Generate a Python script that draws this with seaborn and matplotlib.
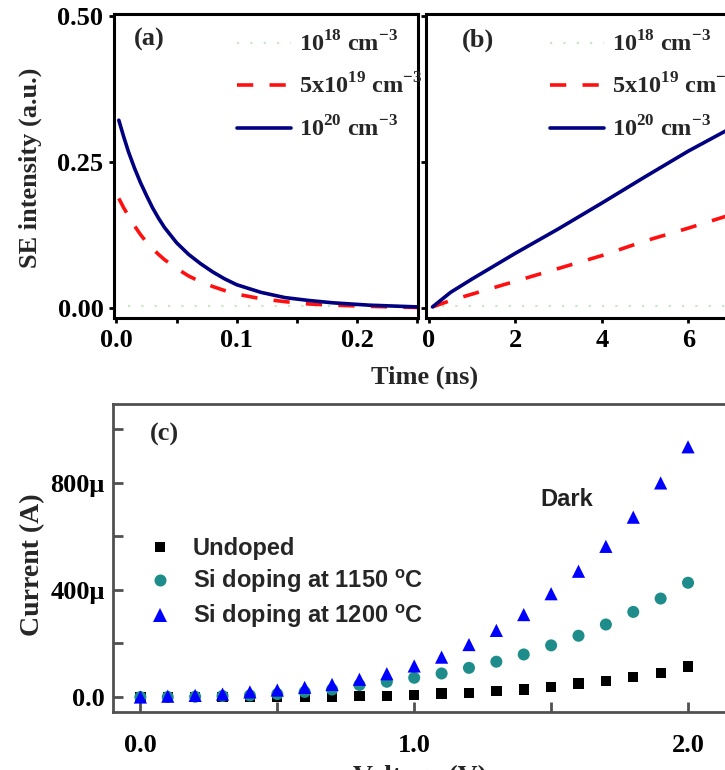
import matplotlib
matplotlib.use("Agg")
import pandas as pd
import matplotlib.pyplot as plt
import seaborn as sns

# ---- (a) SE decay, short time scale ----
t_a = [0.002, 0.006, 0.01, 0.015, 0.02, 0.025, 0.03, 0.035, 0.04, 0.05, 0.06, 0.07,
       0.08, 0.09, 0.10, 0.12, 0.14, 0.16, 0.18, 0.21, 0.25]
se_a_5e19 = [0.188, 0.172, 0.158, 0.141, 0.126, 0.113, 0.102, 0.092, 0.083, 0.068, 0.055, 0.045,
             0.037, 0.030, 0.024, 0.016, 0.011, 0.007, 0.005, 0.003, 0.001]
se_a_1e20 = [0.322, 0.294, 0.268, 0.240, 0.215, 0.193, 0.172, 0.154, 0.138, 0.112, 0.092, 0.076,
             0.062, 0.050, 0.040, 0.027, 0.018, 0.013, 0.009, 0.005, 0.002]
t_a_1e18 = [0.01, 0.25]
se_a_1e18 = [0.004, 0.004]

# ---- (b) SE rise, long time scale ----
t_b = [0.08, 0.5, 1, 2, 3, 4, 5, 6, 6.9]
se_b_5e19 = [0.002, 0.013, 0.024, 0.046, 0.068, 0.090, 0.115, 0.137, 0.158]
se_b_1e20 = [0.002, 0.027, 0.050, 0.094, 0.136, 0.180, 0.225, 0.269, 0.305]
t_b_1e18 = [0.3, 6.9]
se_b_1e18 = [0.004, 0.004]

# ---- (c) dark I-V (current in uA) ----
voltage = [0.0, 0.1, 0.2, 0.3, 0.4, 0.5, 0.6, 0.7, 0.8, 0.9, 1.0,
           1.1, 1.2, 1.3, 1.4, 1.5, 1.6, 1.7, 1.8, 1.9, 2.0]
i_undoped = [0, 0, 0, 0, 0, 0, 1, 1, 3, 5, 8, 13, 16, 22, 28, 37, 50, 60, 76, 91, 114]
i_1150 = [0, 0, 1, 4, 6, 11, 19, 28, 45, 57, 72, 88, 109, 132, 159, 193, 229, 271, 318, 368, 427]
i_1200 = [0, 3, 6, 11, 19, 26, 36, 47, 66, 87, 116, 149, 196, 249, 308, 386, 470, 563, 672, 800, 935]

labels_dop = [r"10$^{\mathbf{18}}$ cm$^{\mathbf{-3}}$", r"5x10$^{\mathbf{19}}$ cm$^{\mathbf{-3}}$",
              r"10$^{\mathbf{20}}$ cm$^{\mathbf{-3}}$"]
samples = ['Undoped', r'Si doping at 1150 $^{\mathsf{o}}$C', r'Si doping at 1200 $^{\mathsf{o}}$C']

sns.set_theme(style="ticks")
plt.rcParams['font.family'] = ['Liberation Serif', 'DejaVu Serif']
plt.rcParams['mathtext.fontset'] = 'custom'
plt.rcParams['mathtext.rm'] = 'Liberation Serif'
plt.rcParams['mathtext.bf'] = 'Liberation Serif:bold'
plt.rcParams['mathtext.sf'] = 'Liberation Sans:bold'
plt.rcParams['font.weight'] = 'bold'

W, H = 725, 770
fig = plt.figure(figsize=(W / 100, H / 100), dpi=100)


def box(l, t, r, b):
    return [l / W, 1 - b / H, (r - l) / W, (b - t) / H]


ax_b = fig.add_axes(box(426, 14, 725, 318))
ax_a = fig.add_axes(box(114, 14, 418, 318))
ax_c = fig.add_axes(box(113, 404, 725, 712))

green = '#c9e6c9'
red = '#ff1010'
navy = '#000080'

# panel a
sns.lineplot(x=t_a_1e18, y=se_a_1e18, ax=ax_a, color=green, lw=1.6, ls=(0, (1, 5)), label=labels_dop[0])
sns.lineplot(x=t_a, y=se_a_5e19, ax=ax_a, color=red, lw=2.6, ls=(0, (4.5, 4.5)), label=labels_dop[1])
sns.lineplot(x=t_a, y=se_a_1e20, ax=ax_a, color=navy, lw=2.6, label=labels_dop[2])
ax_a.set_xlim(-0.002, 0.2506)
ax_a.set_ylim(-0.017, 0.504)
ax_a.set_xticks([0.0, 0.05, 0.1, 0.15, 0.2, 0.25])
ax_a.set_xticklabels(['0.0', '', '0.1', '', '0.2', ''])
ax_a.set_yticks([0.0, 0.25, 0.5])
ax_a.set_yticklabels(['0.00', '0.25', '0.50'])

# panel b
sns.lineplot(x=t_b_1e18, y=se_b_1e18, ax=ax_b, color=green, lw=1.6, ls=(0, (1, 5)), label=labels_dop[0])
sns.lineplot(x=t_b, y=se_b_5e19, ax=ax_b, color=red, lw=2.6, ls=(0, (4.5, 4.5)), label=labels_dop[1])
sns.lineplot(x=t_b, y=se_b_1e20, ax=ax_b, color=navy, lw=2.6, label=labels_dop[2])
ax_b.set_xlim(-0.07, 6.85)
ax_b.set_ylim(-0.017, 0.504)
ax_b.set_xticks([0, 2, 4, 6])
ax_b.set_yticks([0.0, 0.25, 0.5])
ax_b.set_yticklabels([])
ax_b.spines['right'].set_visible(False)

for ax, lx in ((ax_a, 0.405), (ax_b, 0.415)):
    for s in ax.spines.values():
        s.set_linewidth(2.2)
        s.set_color('black')
    ax.tick_params(direction='out', length=3.6, width=2, labelsize=19, pad=4, colors='black')
    for lab in ax.get_xticklabels() + ax.get_yticklabels():
        lab.set_fontweight('bold')
    ax.set_xlabel('')
    ax.set_ylabel('')
    ax.legend(loc='upper left', frameon=False, fontsize=17.5, handlelength=2.2, handletextpad=0.35,
              labelspacing=0.72, borderpad=0, borderaxespad=0, bbox_to_anchor=(lx, 0.945))

ax_a.text(0.065, 0.915, '(a)', transform=ax_a.transAxes, fontsize=19, fontweight='bold', ha='left', va='center')
ax_b.text(0.12, 0.915, '(b)', transform=ax_b.transAxes, fontsize=19, fontweight='bold', ha='left', va='center')

fig.text(30 / W, 1 - 168 / H, 'SE intensity (a.u.)', rotation=90, ha='center', va='center', fontsize=19, fontweight='bold')
fig.text(425 / W, 1 - 377 / H, 'Time (ns)', ha='center', va='center', fontsize=19, fontweight='bold')

# panel c
df_c = pd.DataFrame({'V': voltage * 3,
                     'I': i_undoped + i_1150 + i_1200,
                     'sample': [samples[0]] * 21 + [samples[1]] * 21 + [samples[2]] * 21})
sns.scatterplot(data=df_c, x='V', y='I', hue='sample', style='sample', size='sample', ax=ax_c,
                palette=['black', '#1f8c8c', '#0000ff'], markers=['s', 'o', '^'],
                sizes={samples[0]: 55, samples[1]: 75, samples[2]: 90}, linewidth=0)
ax_c.set_xlim(-0.10, 2.135)
ax_c.set_ylim(-56, 1095)
ax_c.set_xticks([0.0, 0.5, 1.0, 1.5, 2.0])
ax_c.set_xticklabels(['0.0', '', '1.0', '', '2.0'])
ax_c.set_yticks([0, 200, 400, 600, 800, 1000])
ax_c.set_yticklabels(['0.0', '', '400μ', '', '800μ', ''])
ax_c.spines['right'].set_visible(False)
for s in ax_c.spines.values():
    s.set_linewidth(2.0)
    s.set_color('#505050')
ax_c.tick_params(direction='in', length=7, width=2, color='#505050', labelcolor='black', labelsize=19)
ax_c.tick_params(axis='x', pad=16)
ax_c.tick_params(axis='y', pad=6)
for lab in ax_c.get_xticklabels() + ax_c.get_yticklabels():
    lab.set_fontweight('bold')
ax_c.set_xlabel('')
ax_c.set_ylabel('')
ax_c.legend(loc='upper left', frameon=False, bbox_to_anchor=(148 / W, 1 - 537 / H), bbox_transform=fig.transFigure,
            prop={'family': 'Liberation Sans', 'weight': 'bold', 'size': 17}, handlelength=1.0, handletextpad=0.9,
            labelspacing=0.3, borderpad=0, borderaxespad=0)
ax_c.text(0.06, 0.9, '(c)', transform=ax_c.transAxes, fontsize=19, fontweight='bold', ha='left', va='center')
ax_c.text(567 / W, 1 - 499 / H, 'Dark', transform=fig.transFigure, fontsize=17, fontweight='bold',
          family='Liberation Sans', ha='center', va='center', color='#222222')

fig.text(33 / W, 1 - 565 / H, 'Current (A)', rotation=90, ha='center', va='center', fontsize=20, fontweight='bold')
fig.text(420 / W, 1 - 765 / H, 'Voltage (V)', ha='center', va='top', fontsize=20, fontweight='bold')

fig.savefig('out.png', dpi=100)
